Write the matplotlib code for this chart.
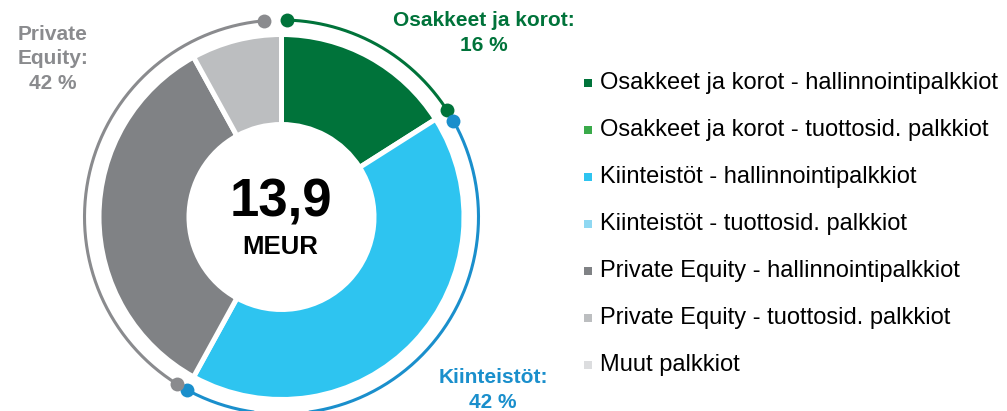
import numpy as np
import matplotlib
matplotlib.use("Agg")
import matplotlib.pyplot as plt

plt.rcParams['font.family'] = ['Liberation Sans', 'DejaVu Sans']

# ---- data ----
categories = [
    "Osakkeet ja korot - hallinnointipalkkiot",
    "Osakkeet ja korot - tuottosid. palkkiot",
    "Kiinteistöt - hallinnointipalkkiot",
    "Kiinteistöt - tuottosid. palkkiot",
    "Private Equity - hallinnointipalkkiot",
    "Private Equity - tuottosid. palkkiot",
    "Muut palkkiot",
]
shares = [16.0, 0.0, 42.0, 0.0, 34.0, 8.0, 0.0]
colors = ["#00733a", "#3aaa4a", "#2ec4f0", "#8fd8f2", "#808285", "#bcbec0", "#dcdddf"]

groups = ["Osakkeet ja korot", "Kiinteistöt", "Private Equity"]
group_members = [[0, 1], [2, 3], [4, 5]]
group_labels = ["Osakkeet ja korot:\n16 %", "Kiinteistöt:\n42 %", "Private\nEquity:\n42 %"]
group_colors = ["#00733a", "#1a8fcc", "#8a8b8e"]

total_label = "13,9"
unit_label = "MEUR"

# ---- figure ----
W, H = 1007, 411
fig = plt.figure(figsize=(W / 100, H / 100), dpi=100)
ax = fig.add_axes([0, 0, 1, 1])

cx, cy = 281.5, H - 217.0
sep = 3.6  # pt white separators
nz = [i for i, v in enumerate(shares) if v > 0]
ax.pie([shares[i] for i in nz], colors=[colors[i] for i in nz],
       startangle=90, counterclock=False, center=(cx, cy), radius=182.5,
       wedgeprops=dict(width=90, edgecolor="white", linewidth=sep))

# outer group arcs
R = 197.0
tot = sum(shares)
cum = np.concatenate([[0], np.cumsum(shares)]) / tot * 360.0
start_pads = [1.5, 3.2, 3.3]
end_pads = [0.5, 0.3, 5.0]
for g, members in enumerate(group_members):
    a0 = cum[members[0]] + start_pads[g]
    a1 = cum[members[-1] + 1] - end_pads[g]
    th = np.radians(np.linspace(a0, a1, 200))
    xs = cx + R * np.sin(th)
    ys = cy + R * np.cos(th)
    ax.plot(xs, ys, color=group_colors[g], lw=2.2, solid_capstyle="round", zorder=3)
    ax.plot([xs[0], xs[-1]], [ys[0], ys[-1]], "o", color=group_colors[g],
            markersize=10, markeredgewidth=0, zorder=4)

# group labels
label_pos = [(484, 33), (493, 390), (53, 59)]
for g in range(3):
    x, y = label_pos[g]
    ax.text(x, H - y, group_labels[g], ha="center", va="center", fontsize=15,
            fontweight="bold", color=group_colors[g], linespacing=1.38)

# center text
ax.text(cx - 1, H - 203, total_label, ha="center", va="center", fontsize=38,
        fontweight="bold", color="black")
ax.text(cx - 1, H - 247, unit_label, ha="center", va="center", fontsize=18.5,
        fontweight="bold", color="black")

# legend
ly0, dly = 82.6, 47.0
for i, (lab, col) in enumerate(zip(categories, colors)):
    y = H - (ly0 + i * dly)
    ax.plot([588], [y], marker="s", markersize=5.8, color=col, markeredgewidth=0)
    ax.text(600, y, lab, ha="left", va="center", fontsize=17, color="black")

ax.set_xlim(0, W)
ax.set_ylim(0, H)
ax.set_aspect("equal")
ax.axis("off")
fig.savefig("out.png", dpi=100)
